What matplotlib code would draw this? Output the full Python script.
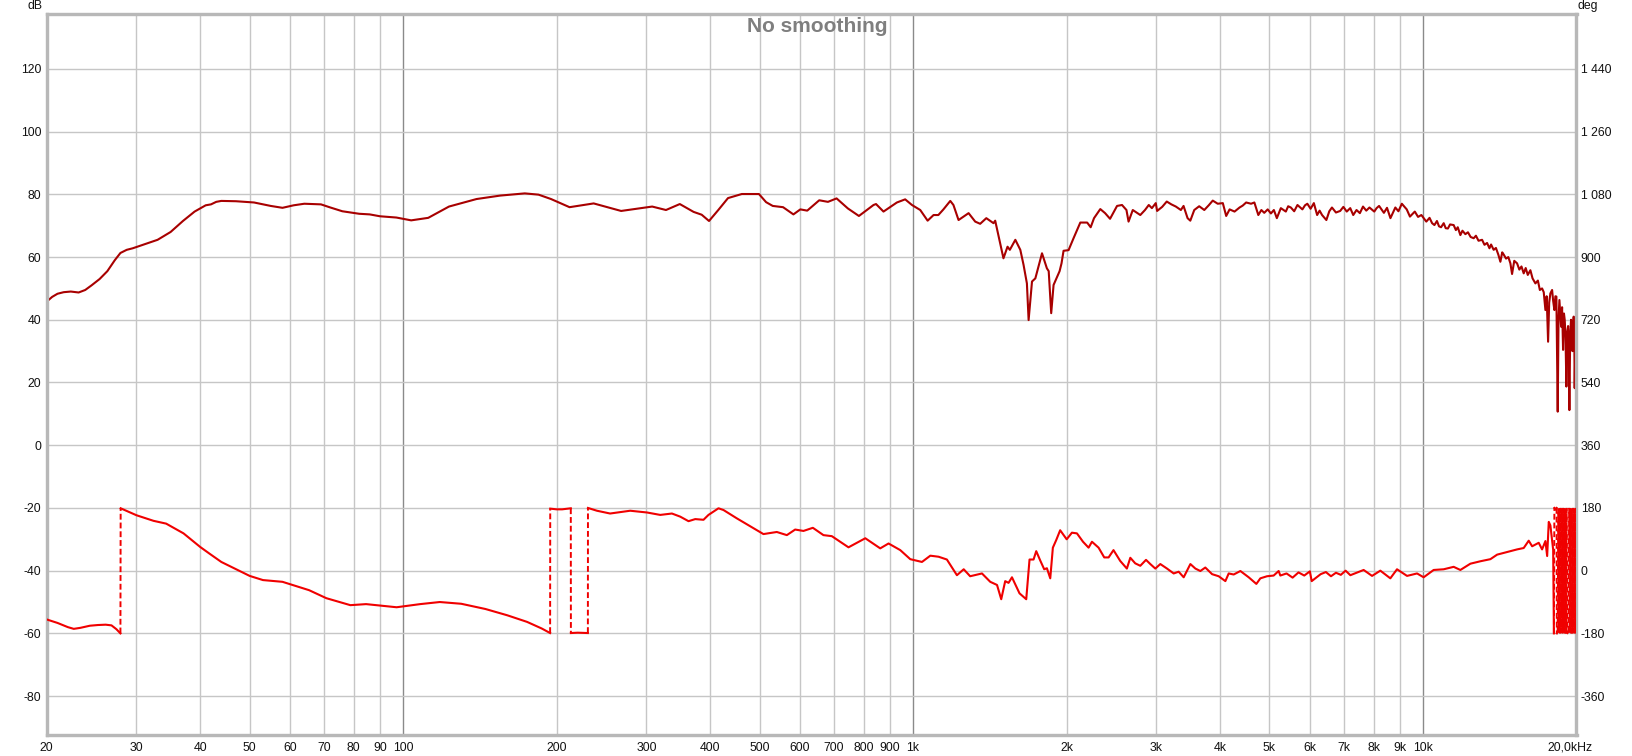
import numpy as np
import matplotlib
matplotlib.use('Agg')
import matplotlib.pyplot as plt
from matplotlib.transforms import ScaledTranslation

# ---------------- data ----------------
mag_freq = [20, 20.5, 21, 21.6, 22.3, 23.1, 23.8, 24.5, 25.4, 26.3, 27.2, 27.9, 28.7, 29.5, 31,
            33, 35, 37, 39, 41, 42, 43, 44, 47, 51, 55,
            58, 61, 64, 69, 72, 76, 82, 86, 90.1, 97, 103.7, 112, 123, 139.3, 155, 173.2, 184.3,
            195, 212, 236.4, 267.6, 307.9, 327.7, 348.8, 371.2, 385, 398, 415, 433.6, 461.5,
            498.6, 515, 530.7, 556, 582.6, 601.1, 620.1, 654.6, 680.9, 708, 745, 783.1, 836.5,
            846, 875, 929.6, 965, 995, 1033, 1068, 1097, 1121, 1147, 1183, 1200, 1228, 1285,
            1324, 1354, 1392, 1438, 1449, 1504, 1532, 1548, 1587, 1623, 1647, 1672, 1685, 1711,
            1737, 1790, 1830, 1845, 1866, 1886, 1938, 1955, 1973, 2018, 2064, 2128, 2195, 2230,
            2264, 2329, 2380, 2434, 2512, 2569, 2621, 2646, 2697, 2790, 2850, 2899, 2940, 2992,
            3010, 3080, 3144, 3210, 3276, 3351, 3392, 3454, 3497, 3560, 3640, 3725, 3800, 3870,
            3958, 4050, 4112, 4176, 4270, 4368, 4430, 4500, 4601, 4670, 4754, 4820, 4883, 4960,
            5032, 5100, 5169, 5263, 5383, 5440, 5506, 5590, 5673, 5801, 5870, 5932, 6020, 6109,
            6200, 6270, 6340, 6464, 6550, 6629, 6750, 6880, 6980, 7087, 7200, 7298, 7407, 7520,
            7627, 7740, 7852, 8025, 8110, 8201, 8382, 8500, 8633, 8826, 8950, 9089, 9292, 9428,
            9637, 9780, 9927, 10150, 10300, 10420, 10530, 10650, 10750, 10850, 10980, 11080,
            11190, 11300, 11486, 11600, 11700, 11838, 11950, 12109, 12250, 12400, 12572, 12700,
            12850, 13058, 13200, 13356, 13500, 13600, 13759, 13900, 14050, 14183, 14300, 14397,
            14550, 14700, 14838, 14951, 15100, 15293, 15450, 15600, 15758, 15900, 16050, 16241,
            16400, 16612, 16800, 16950, 17121, 17250, 17381, 17480, 17592, 17680, 17775, 17914,
            18000, 18101, 18180, 18264, 18374, 18440, 18514, 18590, 18656, 18740, 18824, 18900,
            18963, 19030, 19108, 19180, 19256, 19310, 19368, 19440, 19517, 19580, 19640, 19700,
            19748, 19800, 19838, 19900, 19960]
mag_db = [45.8, 47.3, 48.3, 48.8, 49.0, 48.7, 49.5, 51.0, 53.0, 55.5, 59.0, 61.3, 62.3, 62.8, 64.0,
          65.5, 68.0, 71.5, 74.5, 76.5, 76.8, 77.6, 77.9, 77.8, 77.4, 76.3, 75.7, 76.5, 77.0, 76.8, 75.8, 74.6, 73.8, 73.6, 73.0, 72.6,
          71.7, 72.5, 76.1, 78.5, 79.6, 80.3, 79.9, 78.5, 75.9, 77.1, 74.7, 76.1, 75.0, 76.9,
          74.4, 73.5, 71.5, 75.0, 78.8, 80.1, 80.1, 77.5, 76.3, 75.9, 73.6, 75.2, 74.8, 78.1,
          77.6, 78.7, 75.5, 73.1, 76.6, 76.9, 74.5, 77.4, 78.4, 76.6, 75.0, 71.6, 73.4, 73.4,
          75.2, 77.9, 76.6, 71.8, 74.0, 71.3, 70.6, 72.4, 70.8, 71.6, 59.6, 63.3, 62.3, 65.5,
          62.3, 57.5, 51.6, 39.9, 52.2, 53.2, 61.2, 56.4, 55.5, 42.1, 51.1, 55.5, 58.0, 62.0,
          62.2, 66.0, 71.0, 71.0, 69.5, 72.4, 75.3, 74.0, 72.2, 76.3, 76.6, 75.0, 71.3, 75.0,
          73.4, 75.0, 76.6, 75.6, 77.2, 74.7, 76.0, 77.7, 76.8, 76.1, 75.0, 76.3, 72.4, 71.6,
          75.0, 76.2, 75.0, 76.5, 78.0, 77.0, 77.2, 73.1, 75.2, 74.5, 75.8, 76.4, 77.4, 77.0,
          77.4, 73.4, 75.0, 74.1, 75.2, 73.9, 75.0, 72.4, 75.6, 74.5, 76.2, 75.8, 74.6, 76.6,
          75.2, 76.5, 77.0, 75.4, 77.2, 73.4, 74.8, 73.4, 71.8, 74.6, 75.8, 74.2, 74.7, 76.0,
          74.5, 75.6, 73.4, 75.0, 74.0, 76.1, 74.8, 75.8, 74.5, 75.6, 76.3, 74.1, 75.7, 72.4,
          75.8, 74.6, 77.0, 75.2, 72.9, 74.5, 72.8, 73.4, 71.3, 72.5, 70.8, 70.2, 71.5, 69.8,
          69.5, 70.8, 69.2, 69.1, 70.4, 70.2, 68.6, 69.5, 67.0, 68.4, 67.3, 67.9, 66.4, 66.0,
          66.8, 65.2, 65.5, 63.9, 64.5, 62.8, 64.0, 62.3, 62.9, 60.8, 58.5, 61.5, 60.8, 59.5,
          60.0, 58.0, 54.6, 58.8, 58.0, 56.0, 57.0, 54.8, 56.5, 54.3, 55.8, 53.2, 51.6, 52.5,
          49.5, 50.0, 48.8, 43.1, 47.5, 33.0, 45.5, 48.4, 49.5, 46.0, 43.1, 47.5, 47.4, 10.7,
          40.0, 46.3, 42.0, 37.8, 44.0, 30.4, 42.0, 40.0, 35.0, 18.7, 36.0, 38.0, 30.0, 11.2,
          36.0, 40.0, 33.0, 30.0, 38.0, 41.0, 35.0, 18.2, 33.0, 37.0]

phase_freq = [20, 21, 22, 22.6, 23.3, 24.3, 25.2, 26.1, 26.8, 27.4, 27.9, 27.93, 30.0, 32.4, 34.3, 37.1, 40, 41.7, 44.0,
              50, 53.1, 58.0, 65.4, 70.7, 78.8, 84.6, 97.1, 108, 118, 130, 145, 160, 175, 187,
              194.2, 194.3, 200, 205, 213.2, 213.3, 220, 230.3, 230.4, 239.9, 254.6, 278.8,
              300.6, 319.3, 336.6, 349.5, 362.8, 374, 388.2, 397, 415.4, 424.9, 451.4, 493.9,
              508.8, 540.5, 565.6, 587.2, 609.6, 636.1, 667.2, 693, 747.1, 806, 862.2, 895.2,
              943.8, 987.4, 1041, 1081, 1122, 1165, 1219, 1257, 1294, 1365, 1417, 1461, 1489,
              1516, 1539, 1563, 1617, 1667, 1692, 1723, 1744, 1776, 1808, 1830, 1858, 1880,
              1909, 1943, 2001, 2049, 2096, 2154, 2209, 2243, 2311, 2371, 2418, 2472, 2548,
              2626, 2667, 2727, 2790, 2863, 2919, 2986, 3054, 3148, 3244, 3318, 3394, 3498,
              3578, 3659, 3742, 3858, 3975, 4097, 4159, 4254, 4384, 4552, 4712, 4798, 4945,
              5095, 5211, 5251, 5400, 5550, 5700, 5850, 6000, 6050, 6150, 6300, 6450, 6600,
              6750, 6900, 7050, 7204, 7649, 7945, 8248, 8629, 8893, 9304, 9735, 10030, 10493,
              10980, 11486, 11838, 12386, 12960, 13558, 13976, 14397, 14838, 15293, 15758,
              16118, 16370, 16864, 17121, 17381, 17518, 17646, 17775, 17914, 18000, 18060,
              18100, 18200, 18280, 18300, 18370, 18420, 18470, 18520, 18570, 18620, 18680,
              18730, 18780, 18830, 18880, 18930, 18980, 19030, 19080, 19130, 19200, 19280,
              19350, 19420, 19470, 19530, 19590, 19650, 19700, 19760, 19810, 19870, 19930, 19990]
phase_deg = [-140, -150, -162, -167, -164, -158, -156, -155, -157, -168, -180, 179, 159, 143, 135, 107, 68, 49, 25,
             -15, -27, -32, -56, -79, -99, -96, -105, -96, -90, -95, -110, -128, -147, -166,
             -179, 178, 176, 176, 179, -179, -178, -179, 180, 172, 164, 172,
             167, 160, 164, 155, 142, 148, 146, 160, 179, 174, 150, 116,
             105, 111, 102, 118, 114, 123, 102, 99, 67, 93, 64, 78,
             59, 33, 25, 43, 40, 32, -13, 4, -16, -8, -32, -41, -82,
             -30, -35, -19, -65, -82, 32, 32, 56, 29, 4, 7, -22, 66,
             88, 116, 90, 109, 107, 83, 66, 83, 66, 38, 38, 59, 28,
             6, 37, 21, 14, 31, 19, 6, 19, 6, -8, -3, -19, 19,
             6, -1, 9, -10, -16, -30, -8, -11, -1, -19, -38, -22, -16,
             -14, -1, -14, -8, -20, -5, -14, -2, -30, -22, -10, -4, -16,
             -6, -12, 0, -13, 2, -15, 0, -22, 4, -15, -8, -19, 2,
             4, 11, 2, 20, 27, 33, 46, 51, 56, 61, 65,
             86, 70, 80, 61, 85, 42, 140, 130, 88, 60, -180,
             180, 175, 180, -180, -175, 178, -178, 179, -180, 180, -179,
             178, -180, 180, -178, 179, -180, 178, -180, 180, -179, -175,
             180, -178, 179, -180, 178, -180, 180, -179, 178, -180, 180, -178]

x_ticks = [20, 30, 40, 50, 60, 70, 80, 90, 100, 200, 300, 400, 500, 600, 700, 800, 900,
           1000, 2000, 3000, 4000, 5000, 6000, 7000, 8000, 9000, 10000, 20000]
x_labels = ['20', '30', '40', '50', '60', '70', '80', '90', '100', '200', '300', '400', '500',
            '600', '700', '800', '900', '1k', '2k', '3k', '4k', '5k', '6k', '7k', '8k', '9k',
            '10k', '20,0kHz']
decades = [100, 1000, 10000]
db_ticks = [-80, -60, -40, -20, 0, 20, 40, 60, 80, 100, 120]
deg_ticks = [-360, -180, 0, 180, 360, 540, 720, 900, 1080, 1260, 1440]
deg_labels = ['-360', '-180', '0', '180', '360', '540', '720', '900', '1 080', '1 260', '1 440']

# ---------------- figure ----------------
plt.rcParams['font.family'] = ['Liberation Sans', 'DejaVu Sans']
W, H = 1633, 756
fig = plt.figure(figsize=(W / 100, H / 100), dpi=100)
L, R, T, B = 46.7, 1576.5, 14, 735
ax = fig.add_axes([L / W, 1 - B / H, (R - L) / W, (B - T) / H])
ax.set_xscale('log')
ax.set_xlim(20, 20000)
ylo, yhi = -92.4, 137.5
ax.set_ylim(ylo, yhi)

grid_light = '#C6C6C6'
for f in x_ticks[1:-1]:
    ax.axvline(f, color='#8A8A8A' if f in decades else grid_light, lw=1.0, zorder=0)
for d in db_ticks:
    ax.axhline(d, color=grid_light, lw=1.0, zorder=0)

fs = 8.8
ax.set_xticks(x_ticks)
ax.set_xticklabels(x_labels)
ax.xaxis.set_minor_locator(matplotlib.ticker.NullLocator())
ax.set_yticks(db_ticks)
ax.set_yticklabels([str(d) for d in db_ticks])
ax.tick_params(axis='both', length=0, labelsize=fs, colors='#111111')
ax.tick_params(axis='y', pad=4)
ax.tick_params(axis='x', pad=5)
for lab in ax.get_xticklabels():
    if lab.get_text() == '20,0kHz':
        lab.set_transform(lab.get_transform() + ScaledTranslation(-0.065, 0, fig.dpi_scale_trans))

ax2 = ax.twinx()
ax2.set_ylim(9 * ylo + 360, 9 * yhi + 360)
ax2.set_yticks(deg_ticks)
ax2.set_yticklabels(deg_labels)
ax2.tick_params(axis='y', length=0, labelsize=fs, colors='#111111', pad=3)

for a in (ax, ax2):
    for s in a.spines.values():
        s.set_color('#B8B8B8')
        s.set_linewidth(2.3)

# magnitude
ax.plot(mag_freq, mag_db, color='#A80000', lw=1.5, zorder=3, solid_joinstyle='round')

# phase with dashed wrap connectors
pf = np.array(phase_freq, dtype=float)
pdg = np.array(phase_deg, dtype=float)
jumps = np.where(np.abs(np.diff(pdg)) > 270)[0]
pc = '#F00000'
start = 0
for j in jumps:
    ax2.plot(pf[start:j + 1], pdg[start:j + 1], color=pc, lw=1.5, zorder=3, solid_joinstyle='round')
    ax2.plot(pf[j:j + 2], pdg[j:j + 2], color=pc, lw=1.4, ls=(0, (3, 1.5)), zorder=3)
    start = j + 1
ax2.plot(pf[start:], pdg[start:], color=pc, lw=1.5, zorder=3)

ax.text(0.5035, 0.983, 'No smoothing', transform=ax.transAxes, ha='center', va='center',
        fontsize=15, fontweight='bold', color='#7F7F7F', zorder=5)
fig.text(42 / W, 1 - 6 / H, 'dB', ha='right', va='center', fontsize=fs, color='#111111')
fig.text(1578 / W, 1 - 6 / H, 'deg', ha='left', va='center', fontsize=fs, color='#111111')

fig.savefig('out.png', dpi=100)
